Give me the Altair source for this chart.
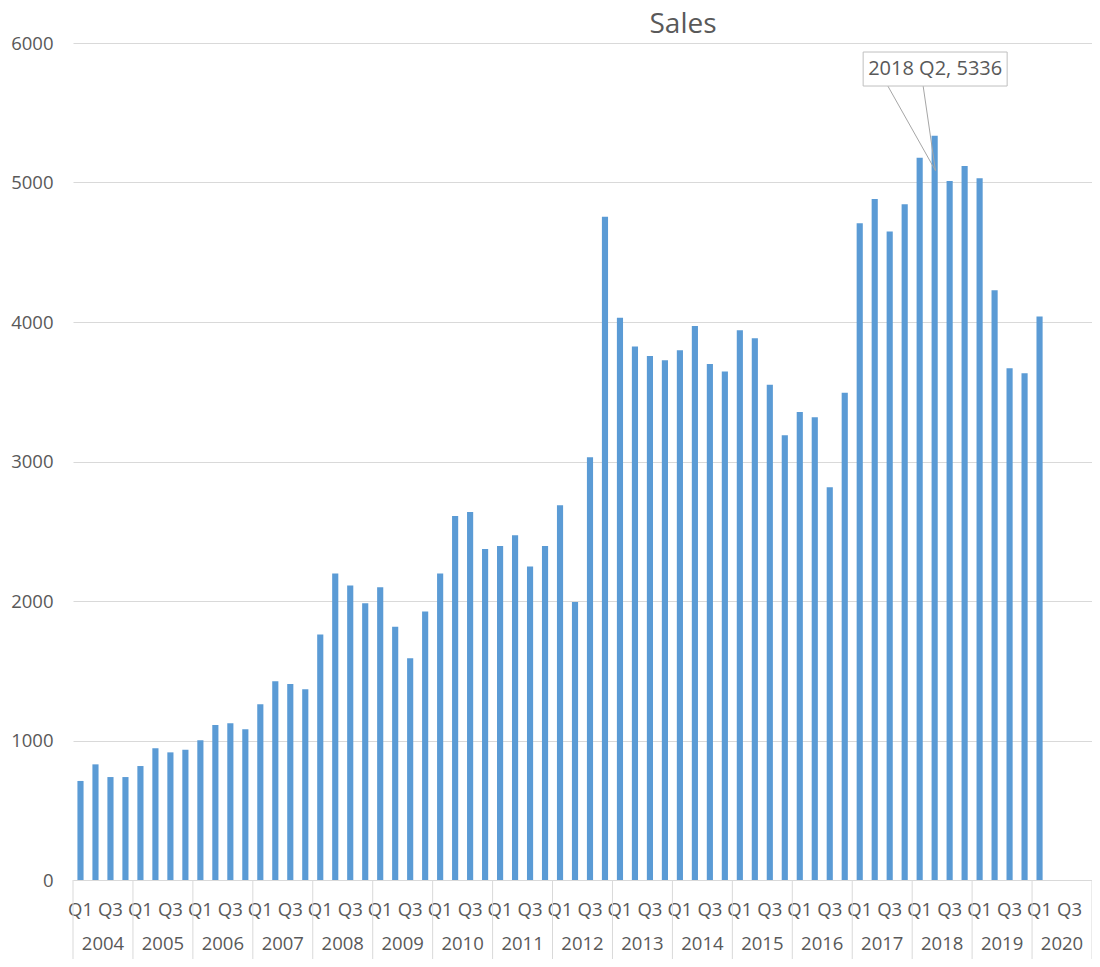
import altair as alt
import pandas as pd

FONT = "Open Sans"
GREY = "#595959"
LINE = "#d9d9d9"

title_text = "Sales"
years = list(range(2004, 2021))
quarters = ["Q1", "Q2", "Q3", "Q4"]
sales = [
    710, 829, 738, 738,
    817, 944, 915, 934,
    1001, 1111, 1123, 1080,
    1259, 1424, 1405, 1367,
    1759, 2198, 2112, 1983,
    2098, 1816, 1589, 1924,
    2198, 2609, 2638, 2373,
    2394, 2471, 2248, 2394,
    2686, 1993, 3030, 4755,
    4030, 3825, 3756, 3725,
    3797, 3971, 3699, 3646,
    3940, 3883, 3551, 3188,
    3355, 3317, 2815, 3493,
    4707, 4882, 4648, 4844,
    5178, 5336, 5011, 5118,
    5030, 4227, 3668, 3632,
    4040,
]
y_ticks = [0, 1000, 2000, 3000, 4000, 5000, 6000]
highlight = "2018 Q2"

categories = [f"{y} {q}" for y in years for q in quarters]
bars_df = pd.DataFrame({"cat": categories[:len(sales)], "sales": sales})
sep_df = pd.DataFrame({"cat": [f"{y} Q1" for y in years]})
end_df = pd.DataFrame({"cat": [f"{years[-1]} Q4"]})
year_df = pd.DataFrame({"cat": [f"{y} Q3" for y in years], "year": [str(y) for y in years]})
ann_df = bars_df[bars_df["cat"] == highlight].copy()
ann_df["label"] = ann_df["cat"] + ", " + ann_df["sales"].astype(str)
title_df = pd.DataFrame({"t": [title_text]})

W, H = 1019, 837
BOTTOM = 79

x_scale = alt.Scale(domain=categories, paddingInner=0, paddingOuter=0)
y_scale = alt.Scale(domain=[0, 6000], nice=False)

X_AXIS = alt.Axis(title=None,
                  labelExpr="(substring(datum.value, 5) == 'Q1' || substring(datum.value, 5) == 'Q3') ? substring(datum.value, 5) : ''",
                  labelAngle=0, labelOverlap=False, ticks=False, grid=False,
                  domainColor=LINE, domainWidth=1,
                  labelFont=FONT, labelFontSize=18.5, labelColor=GREY,
                  labelPadding=20)
Y_AXIS = alt.Axis(title=None, values=y_ticks, format="d", grid=True, gridColor=LINE,
                  domain=False, ticks=False, labelFont=FONT,
                  labelFontSize=18.5, labelColor=GREY, labelPadding=20)


def xenc(band=None):
    if band is None:
        return alt.X("cat:N", scale=x_scale, sort=categories, axis=X_AXIS)
    return alt.X("cat:N", scale=x_scale, sort=categories, axis=X_AXIS, bandPosition=band)


def yenc():
    return alt.Y("sales:Q", scale=y_scale, axis=Y_AXIS)


bars = alt.Chart(bars_df).mark_bar(color="#5b9bd5", width=alt.RelativeBandSize(0.41)).encode(
    x=xenc(), y=yenc(),
)

seps = alt.Chart(sep_df).mark_rule(color=LINE, strokeWidth=1).encode(
    x=xenc(0), y=alt.value(H), y2=alt.value(H + BOTTOM),
)
end_sep = alt.Chart(end_df).mark_rule(color=LINE, strokeWidth=1).encode(
    x=xenc(1), y=alt.value(H), y2=alt.value(H + BOTTOM),
)
year_text = alt.Chart(year_df).mark_text(font=FONT, fontSize=18.5, color=GREY, baseline="middle").encode(
    x=xenc(0), y=alt.value(H + 64), text="year:N",
)

BOX = "M-0.715,-0.836L0.725,-0.836L0.725,-0.496L-0.715,-0.496Z"
WEDGE = "M-0.468,-0.496L0.008,0.35L-0.115,-0.496"

wedge = alt.Chart(ann_df).mark_point(shape=WEDGE, size=40000, filled=False, stroke="#a6a6a6",
                                     strokeWidth=1, opacity=1).encode(x=xenc(), y=yenc())
box = alt.Chart(ann_df).mark_point(shape=BOX, size=40000, filled=True, fill="white", stroke="#bfbfbf",
                                   strokeWidth=1, opacity=1, fillOpacity=1, strokeOpacity=1).encode(
    x=xenc(), y=yenc())
ann_text = alt.Chart(ann_df).mark_text(font=FONT, fontSize=20, color=GREY, baseline="middle",
                                       dy=-66.5, dx=0.5).encode(
    x=xenc(), y=yenc(), text="label:N")

title_mark = alt.Chart(title_df).mark_text(font=FONT, fontSize=28, color=GREY, align="center",
                                           baseline="alphabetic").encode(
    x=alt.value(610), y=alt.value(-10), text="t:N")

chart = alt.layer(bars, seps, end_sep, year_text, wedge, box, ann_text, title_mark).properties(
    width=W,
    height=H,
    autosize=alt.AutoSizeParams(type="none"),
    padding={"left": 65, "top": 35, "right": 0, "bottom": BOTTOM},
).configure_view(stroke=None)

chart.save("out.html", embed_options={"renderer": "svg", "actions": False})
